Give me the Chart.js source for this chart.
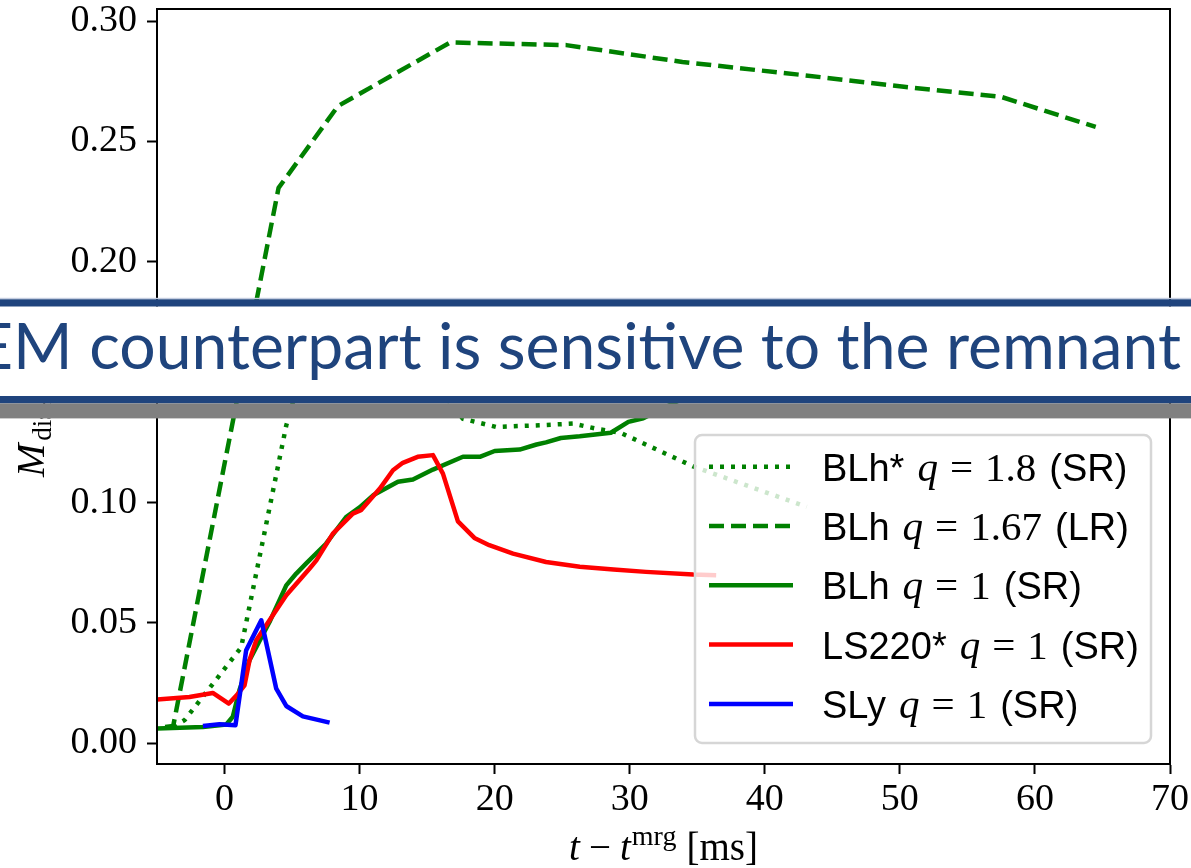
<!DOCTYPE html>
<html lang="en">
<head>
<meta charset="UTF-8">
<title>disk mass</title>
<script src="https://cdn.jsdelivr.net/npm/chart.js@4"></script>
<style>
  html, body { margin: 0; padding: 0; background: #fff; }
  #wrap { width: 1191px; height: 868px; position: relative; }
</style>
</head>
<body>
<div id="wrap"><canvas id="myChart"></canvas></div>
<script>
// BLh* q=1.8 (SR)  - dotted
const tBLh18 = [-3.8, -2.96, 1.23, 4.57, 6.0, 8.5, 12.0, 15.5, 17.65, 20.1, 23.3, 25.8, 27.5, 29.3, 34.7, 43.1];
const mBLh18 = [0.0068, 0.0096, 0.0398, 0.132, 0.160, 0.176, 0.172, 0.150, 0.1348, 0.1314, 0.1321, 0.1328, 0.1307, 0.129, 0.115, 0.0982];
// BLh q=1.67 (LR) - dashed
const tBLh167 = [-4.4, -3.8, 4.0, 8.4, 16.7, 25.3, 33.9, 42.9, 50.3, 57.5, 64.5];
const mBLh167 = [0.0068, 0.0072, 0.2307, 0.2647, 0.2911, 0.2900, 0.2830, 0.2775, 0.2727, 0.2685, 0.2560];
// BLh q=1 (SR)
const tBLh1 = [-5, -1.6, 0.13, 0.61, 1.1, 1.85, 2.6, 3.33, 4.57, 5.31, 6.05, 7.53, 9.0, 10.0, 11.0, 12.84, 13.95, 15.43, 17.65, 18.9, 20.0, 21.85, 23.1, 23.8, 24.9, 26.3, 28.6, 29.9, 31.0, 33.5, 36.4];
const mBLh1 = [0.0061, 0.0068, 0.0078, 0.011, 0.022, 0.0345, 0.0426, 0.0504, 0.0656, 0.0705, 0.0747, 0.083, 0.094, 0.098, 0.103, 0.1086, 0.1096, 0.1137, 0.119, 0.119, 0.1214, 0.122, 0.1241, 0.125, 0.1268, 0.1275, 0.129, 0.1335, 0.135, 0.142, 0.148];
// LS220* q=1 (SR)
const tLS220 = [-5, -2.6, -0.87, 0.32, 0.91, 1.48, 1.85, 2.35, 3.33, 4.57, 5.43, 6.3, 6.8, 8.02, 9.0, 9.5, 10.1, 11.5, 12.47, 13.2, 14.3, 15.43, 16.17, 17.28, 18.5, 19.6, 21.36, 23.8, 26.3, 28.8, 31.2, 34.7, 36.4];
const mLS220 = [0.0182, 0.0192, 0.0209, 0.0165, 0.020, 0.0241, 0.0345, 0.0428, 0.0511, 0.0615, 0.067, 0.0726, 0.076, 0.0871, 0.0926, 0.0954, 0.0968, 0.1058, 0.1134, 0.1165, 0.119, 0.1197, 0.112, 0.0922, 0.0853, 0.0823, 0.0788, 0.0753, 0.0733, 0.0722, 0.0712, 0.0701, 0.0698];
// SLy q=1 (SR)
const tSLy = [-1.6, -0.37, 0.81, 1.6, 2.72, 3.83, 4.57, 5.8, 7.78];
const mSLy = [0.0072, 0.0079, 0.0075, 0.0386, 0.0511, 0.0227, 0.0155, 0.0112, 0.0086];

const seriesModel = ['BLh*', 'BLh', 'BLh', 'LS220*', 'SLy'];
const seriesQ = ['1.8', '1.67', '1', '1', '1'];
const seriesRes = ['SR', 'LR', 'SR', 'SR', 'SR'];
const seriesColor = ['#008000', '#008000', '#008000', '#ff0000', '#0000ff'];
const seriesDash = [[4, 7], [15, 7], [], [], []];

const xTicks = [0, 10, 20, 30, 40, 50, 60, 70];
const yTicks = [0, 0.05, 0.10, 0.15, 0.20, 0.25, 0.30];

const bannerText = 'EM counterpart is sensitive to the remnant';

const SERIF = 'Liberation Serif';
const SANS = 'Liberation Sans';
const BLUE = '#1f447d';
const LW = 4.5;

function pts(xs, ys) {
    return xs.map((x, i) => ({x: x, y: ys[i]}));
}
const seriesData = [pts(tBLh18, mBLh18), pts(tBLh167, mBLh167), pts(tBLh1, mBLh1), pts(tLS220, mLS220), pts(tSLy, mSLy)];

const datasets = seriesData.map((d, i) => ({
    label: seriesModel[i] + ' q = ' + seriesQ[i] + ' (' + seriesRes[i] + ')',
    data: d,
    borderColor: seriesColor[i],
    borderWidth: LW,
    borderDash: seriesDash[i],
    borderCapStyle: 'butt',
    borderJoinStyle: 'round',
    pointRadius: 0,
    tension: 0,
    fill: false,
    order: 5 - i
}));

// draws a row of text pieces with mixed fonts, returns end x
function drawPieces(ctx, pieces, x, y) {
    for (const p of pieces) {
        ctx.font = p.font;
        ctx.fillText(p.text, x, y + (p.dy || 0));
        x += ctx.measureText(p.text).width + (p.gap || 0);
    }
    return x;
}
function piecesWidth(ctx, pieces) {
    let w = 0;
    for (const p of pieces) { ctx.font = p.font; w += ctx.measureText(p.text).width + (p.gap || 0); }
    return w;
}

const decorations = {
    id: 'decorations',
    afterDatasetsDraw(chart) {
        const ctx = chart.ctx;
        const a = chart.chartArea;
        ctx.save();
        // frame
        ctx.strokeStyle = '#000';
        ctx.lineWidth = 2;
        ctx.strokeRect(a.left, a.top, a.right - a.left, a.bottom - a.top);

        // legend
        const lx = 695, ly = 435, lw = 456, lh = 308;
        ctx.beginPath();
        ctx.roundRect(lx, ly, lw, lh, 7);
        ctx.fillStyle = 'rgba(255,255,255,0.8)';
        ctx.fill();
        ctx.strokeStyle = '#d6d6d6';
        ctx.lineWidth = 2.5;
        ctx.stroke();
        for (let i = 0; i < seriesModel.length; i++) {
            const ry = 466.7 + i * 59.3;
            ctx.beginPath();
            ctx.setLineDash(seriesDash[i]);
            ctx.lineCap = 'butt';
            ctx.strokeStyle = seriesColor[i];
            ctx.lineWidth = LW;
            ctx.moveTo(709, ry);
            ctx.lineTo(793, ry);
            ctx.stroke();
            ctx.setLineDash([]);
            ctx.fillStyle = '#000';
            ctx.textBaseline = 'alphabetic';
            ctx.textAlign = 'left';
            drawPieces(ctx, [
                {text: seriesModel[i], font: '38px ' + SANS, gap: 13},
                {text: 'q', font: 'italic 41px ' + SERIF, gap: 12},
                {text: '=', font: '41px ' + SERIF, gap: 12},
                {text: seriesQ[i], font: '41px ' + SERIF, gap: 13},
                {text: '(' + seriesRes[i] + ')', font: '38px ' + SANS}
            ], 822, ry + 14);
        }

        // x axis title
        ctx.fillStyle = '#000';
        const xl = [
            {text: 't', font: 'italic 39px ' + SERIF, gap: 9},
            {text: '\u2212', font: '39px ' + SERIF, gap: 9},
            {text: 't', font: 'italic 39px ' + SERIF, gap: 1},
            {text: 'mrg', font: '28px ' + SERIF, dy: -15, gap: 10},
            {text: '[ms]', font: '39px ' + SERIF}
        ];
        const xw = piecesWidth(ctx, xl);
        drawPieces(ctx, xl, (a.left + a.right) / 2 - xw / 2, 860);

        // y axis title (rotated)
        ctx.translate(44, 477);
        ctx.rotate(-Math.PI / 2);
        drawPieces(ctx, [
            {text: 'M', font: 'italic 40px ' + SERIF, gap: 3},
            {text: 'disk', font: '27px ' + SERIF, dy: 7, gap: 10},
            {text: '[', font: '38px ' + SERIF},
            {text: 'M', font: 'italic 38px ' + SERIF},
            {text: '\u2299', font: '24px DejaVu Sans', dy: 7},
            {text: ']', font: '38px ' + SERIF}
        ], 0, 0);
        ctx.restore();
    },
    afterDraw(chart) {
        const ctx = chart.ctx;
        const W = chart.width;
        ctx.save();
        ctx.fillStyle = '#c4cde0';
        ctx.fillRect(0, 297.8, W, 1.5);
        ctx.fillStyle = BLUE;
        ctx.fillRect(0, 299.3, W, 7.4);
        ctx.fillStyle = '#ffffff';
        ctx.fillRect(0, 306.7, W, 89.3);
        ctx.fillStyle = BLUE;
        ctx.fillRect(0, 396, W, 7.4);
        ctx.fillStyle = '#808080';
        ctx.fillRect(0, 403.4, W, 15);
        ctx.font = '64px Lato';
        ctx.textBaseline = 'alphabetic';
        ctx.textAlign = 'left';
        const tw = ctx.measureText(bannerText).width;
        ctx.translate(-24, 369);
        ctx.scale(1205 / tw, 1);
        ctx.fillStyle = BLUE;
        ctx.fillText(bannerText, 0, 0);
        ctx.restore();
    }
};

const config = {
    type: 'line',
    data: {datasets: datasets},
    options: {
        responsive: true,
        maintainAspectRatio: false,
        animation: false,
        devicePixelRatio: 1,
        layout: {padding: {top: 9, right: 21, left: 0, bottom: 0}},
        plugins: {
            legend: {display: false},
            tooltip: {enabled: false}
        },
        scales: {
            x: {
                type: 'linear',
                min: -5,
                max: 70,
                afterBuildTicks: s => { s.ticks = xTicks.map(v => ({value: v})); },
                afterFit: s => { s.height = 104; s.paddingLeft = 0; s.paddingRight = 0; },
                border: {color: '#000', width: 2},
                grid: {drawOnChartArea: false, drawTicks: true, tickLength: 10, tickColor: '#000', tickWidth: 2},
                ticks: {
                    color: '#000',
                    padding: 3,
                    maxRotation: 0,
                    font: {family: SERIF, size: 38},
                    callback: v => String(v)
                }
            },
            y: {
                type: 'linear',
                min: -0.0086,
                max: 0.305,
                afterBuildTicks: s => { s.ticks = yTicks.map(v => ({value: v})); },
                afterFit: s => { s.width = 157; s.paddingTop = 0; s.paddingBottom = 0; },
                border: {color: '#000', width: 2},
                grid: {drawOnChartArea: false, drawTicks: true, tickLength: 10, tickColor: '#000', tickWidth: 2},
                ticks: {
                    color: '#000',
                    padding: 10,
                    font: {family: SERIF, size: 38},
                    callback: v => v.toFixed(2)
                }
            }
        }
    },
    plugins: [decorations]
};

const ctx = document.getElementById('myChart').getContext('2d');
const myChart = new Chart(ctx, config);
</script>
</body>
</html>
